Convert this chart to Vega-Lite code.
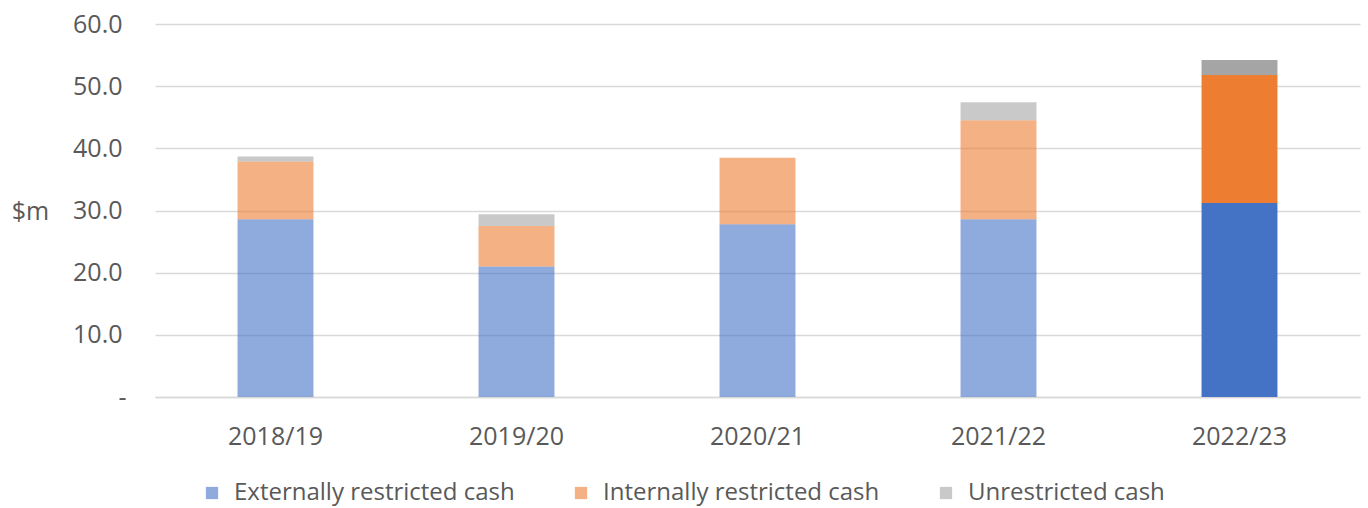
{
  "$schema": "https://vega.github.io/schema/vega-lite/v6.json",
  "autosize": "none",
  "width": 1205,
  "height": 373,
  "padding": {"left": 155, "top": 24, "right": 8, "bottom": 111},
  "background": "white",
  "config": {
    "view": {"stroke": null},
    "font": "Open Sans",
    "axis": {"labelFont": "Open Sans", "titleFont": "Open Sans", "labelColor": "#595959", "titleColor": "#595959"},
    "legend": {"labelFont": "Open Sans"}
  },
  "data": {
    "values": [
      {"year": "2018/19", "category": "Externally restricted cash", "k": 1, "value": 28.6},
      {"year": "2018/19", "category": "Internally restricted cash", "k": 2, "value": 9.3},
      {"year": "2018/19", "category": "Unrestricted cash", "k": 3, "value": 0.8},
      {"year": "2019/20", "category": "Externally restricted cash", "k": 1, "value": 21.0},
      {"year": "2019/20", "category": "Internally restricted cash", "k": 2, "value": 6.5},
      {"year": "2019/20", "category": "Unrestricted cash", "k": 3, "value": 1.9},
      {"year": "2020/21", "category": "Externally restricted cash", "k": 1, "value": 27.8},
      {"year": "2020/21", "category": "Internally restricted cash", "k": 2, "value": 10.7},
      {"year": "2020/21", "category": "Unrestricted cash", "k": 3, "value": 0.0},
      {"year": "2021/22", "category": "Externally restricted cash", "k": 1, "value": 28.6},
      {"year": "2021/22", "category": "Internally restricted cash", "k": 2, "value": 15.9},
      {"year": "2021/22", "category": "Unrestricted cash", "k": 3, "value": 2.9},
      {"year": "2022/23", "category": "Externally restricted cash", "k": 1, "value": 31.2},
      {"year": "2022/23", "category": "Internally restricted cash", "k": 2, "value": 20.6},
      {"year": "2022/23", "category": "Unrestricted cash", "k": 3, "value": 2.4}
    ]
  },
  "mark": {"type": "bar"},
  "encoding": {
    "x": {
      "field": "year",
      "type": "nominal",
      "sort": null,
      "scale": {"paddingInner": 0.685, "paddingOuter": 0.3425},
      "axis": {
        "title": null,
        "labelAngle": 0,
        "labelFontSize": 25,
        "labelPadding": 39,
        "labelBaseline": "middle",
        "ticks": false,
        "domainColor": "#d9d9d9",
        "domainWidth": 1.5
      }
    },
    "y": {
      "field": "value",
      "type": "quantitative",
      "stack": "zero",
      "scale": {"domain": [0, 60]},
      "axis": {
        "values": [0, 10, 20, 30, 40, 50, 60],
        "labelExpr": "datum.value === 0 ? '-' : format(datum.value, '.1f')",
        "labelAlign": {"condition": {"test": "datum.value === 0", "value": "center"}, "value": "right"},
        "labelFontSize": 25,
        "labelPadding": 33,
        "ticks": false,
        "domain": false,
        "gridColor": "#d9d9d9",
        "gridWidth": 1.5,
        "title": "$m",
        "titleAngle": 0,
        "titleFontSize": 25,
        "titleFontWeight": "normal",
        "titleAlign": "center",
        "titleBaseline": "middle",
        "titleX": -125,
        "titleY": 187
      }
    },
    "color": {
      "field": "category",
      "type": "nominal",
      "scale": {
        "domain": ["Externally restricted cash", "Internally restricted cash", "Unrestricted cash"],
        "range": ["#4472C4", "#ED7D31", "#A5A5A5"]
      },
      "legend": {
        "title": null,
        "orient": "none",
        "direction": "horizontal",
        "legendX": 45,
        "legendY": 457,
        "symbolType": "square",
        "symbolSize": 150,
        "symbolOpacity": 0.6,
        "symbolStrokeWidth": 0,
        "labelFontSize": 24,
        "labelColor": "#595959",
        "labelLimit": 0,
        "labelOffset": 10,
        "columnPadding": 54
      }
    },
    "opacity": {
      "condition": {"test": "datum.year === '2022/23'", "value": 1},
      "value": 0.6
    },
    "order": {"field": "k", "type": "quantitative"}
  }
}
